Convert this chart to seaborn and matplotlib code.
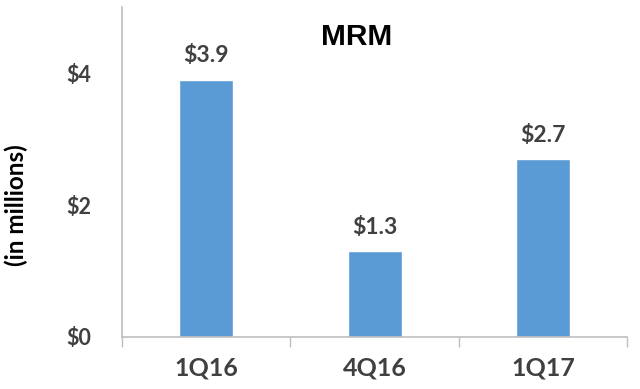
import matplotlib
matplotlib.use("Agg")
import matplotlib.pyplot as plt
import seaborn as sns
import pandas as pd

categories = ["1Q16", "4Q16", "1Q17"]
values = [3.9, 1.3, 2.7]
value_labels = ["$3.9", "$1.3", "$2.7"]
y_ticks = [0, 2, 4]
y_tick_labels = ["$0", "$2", "$4"]
title = "MRM"
y_label = "(in millions)"

sns.set_theme(style="white")
plt.rcParams['font.family'] = ['Lato', 'DejaVu Sans']

df = pd.DataFrame({"quarter": categories, "value": values})

fig = plt.figure(figsize=(6.4, 3.89), dpi=100)
ax = fig.add_axes([0.1906, 0.1337, 0.7894, 0.848])
sns.barplot(data=df, x="quarter", y="value", color="#5B9BD5", saturation=1,
            width=0.32, ax=ax)

ax.set_ylim(0, 5)
ax.set_xlim(-0.5, 2.5)
ax.set_yticks(y_ticks)
ax.set_yticklabels(y_tick_labels, fontsize=15.5, fontweight="bold", color="#404040")
ax.set_xticks(range(len(categories)))
ax.set_xticklabels(categories, fontsize=18, fontweight="bold", color="#404040")
ax.set_xticks([-0.5, 0.5, 1.5, 2.5], minor=True)
ax.tick_params(axis="x", which="major", length=0, pad=14)
ax.tick_params(axis="x", which="minor", length=7, width=1, color="#BFBFBF", direction="out", bottom=True)
ax.tick_params(axis="y", length=0, pad=22)
ax.set_xlabel("")
ax.set_ylabel(y_label, fontsize=17.5, fontweight="bold", color="#000000")
ax.yaxis.set_label_coords(-0.186, 0.40)

for s in ["top", "right"]:
    ax.spines[s].set_visible(False)
for s in ["left", "bottom"]:
    ax.spines[s].set_color("#BFBFBF")
    ax.spines[s].set_linewidth(1.2)

for i, (v, lab) in enumerate(zip(values, value_labels)):
    ax.text(i, v + 0.2, lab, ha="center", va="bottom", fontsize=16.5,
            fontweight="bold", color="#404040")

ax.text(0.465, 0.908, title, transform=ax.transAxes, ha="center", va="center",
        fontsize=21.5, fontweight="bold", color="#000000",
        family=["Liberation Sans", "DejaVu Sans"])

fig.savefig("out.png", dpi=100)
